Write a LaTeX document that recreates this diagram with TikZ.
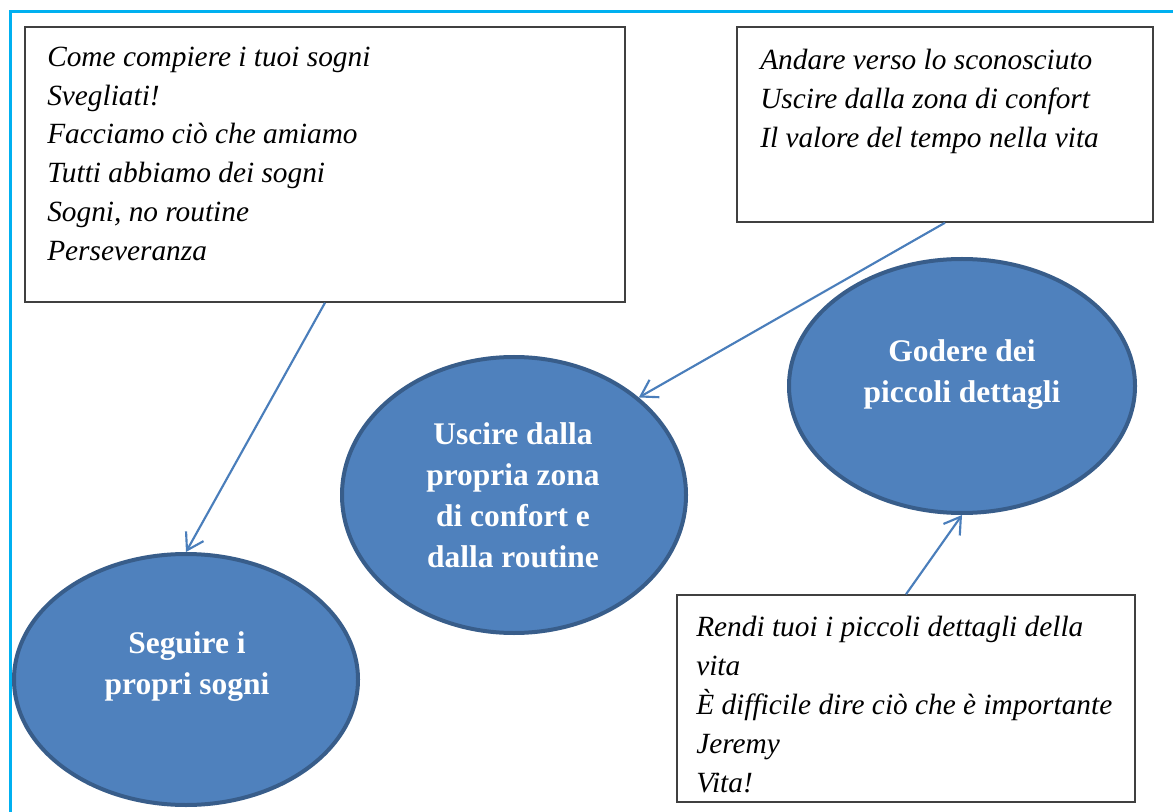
\documentclass[tikz,border=0pt]{standalone}
\usepackage{fontspec}
\setmainfont{Liberation Serif}
\usetikzlibrary{shapes.geometric,arrows.meta}
\definecolor{ellfill}{HTML}{4F81BD}
\definecolor{elldraw}{HTML}{385D8A}
\definecolor{arrowc}{HTML}{4A7EBB}
\definecolor{framec}{HTML}{00B0F0}
\definecolor{boxc}{HTML}{404040}
\begin{document}
\begin{tikzpicture}[x=0.75pt,y=-0.75pt,
  notebox/.style={draw=boxc, line width=1.1pt, rectangle, inner sep=0pt, fill=white},
  bubble/.style={ellipse, draw=elldraw, fill=ellfill, line width=3pt, inner sep=0pt},
  notetext/.style={anchor=north west, inner sep=0pt, align=left,
    font=\fontsize{22}{29.1}\selectfont\itshape},
  bubbletext/.style={anchor=north, inner sep=0pt, align=center, text=white,
    font=\fontsize{23.6}{30.75}\selectfont\bfseries},
  link/.style={draw=arrowc, line width=1.6pt, -{Straight Barb[length=12pt,width=15pt]}}
]
\useasboundingbox (0,0) rectangle (1173,812);
\fill[white] (0,0) rectangle (1173,812);
\draw[framec, line width=2.25pt] (10,11.3) rectangle (1220,860);

% boxes
\node[notebox, minimum width=450pt, minimum height=206.25pt] (box1) at (325,164.5) {};
\node[notebox, minimum width=312pt, minimum height=146.25pt] (box2) at (945,124.5) {};
\node[notebox, minimum width=343.5pt, minimum height=155.25pt] (box3) at (906,698.5) {};

\node[notetext] (t1) at (47,38.8) {\strut Come compiere i tuoi sogni\\Svegliati!\\Facciamo ciò che amiamo\\Tutti abbiamo dei sogni\\Sogni, no routine\\Perseveranza};
\node[notetext] (t2) at (760,42.5) {\strut Andare verso lo sconosciuto\\Uscire dalla zona di confort\\Il valore del tempo nella vita};
\node[notetext] (t3) at (696,609.5) {\strut Rendi tuoi i piccoli dettagli della\\vita\\È difficile dire ciò che è importante\\Jeremy\\Vita!};

% ellipses
\node[bubble, minimum width=258pt, minimum height=188.25pt] (e1) at (186,679.5) {};
\node[bubble, minimum width=258pt, minimum height=207pt] (e2) at (514,495) {};
\node[bubble, minimum width=259.5pt, minimum height=190.5pt] (e3) at (962,386) {};

\node[bubbletext] (l1) at (187,625) {\strut Seguire i\\propri sogni};
\node[bubbletext] (l2) at (513,416) {\strut Uscire dalla\\propria zona\\di confort e\\dalla routine};
\node[bubbletext] (l3) at (962,333) {\strut Godere dei\\piccoli dettagli};

% connectors
\draw[link] (box1.south) -- (e1.north);
\draw[link] (box2.south) -- (e2.38);
\draw[link] (box3.north) -- (e3.south);
\end{tikzpicture}
\end{document}
